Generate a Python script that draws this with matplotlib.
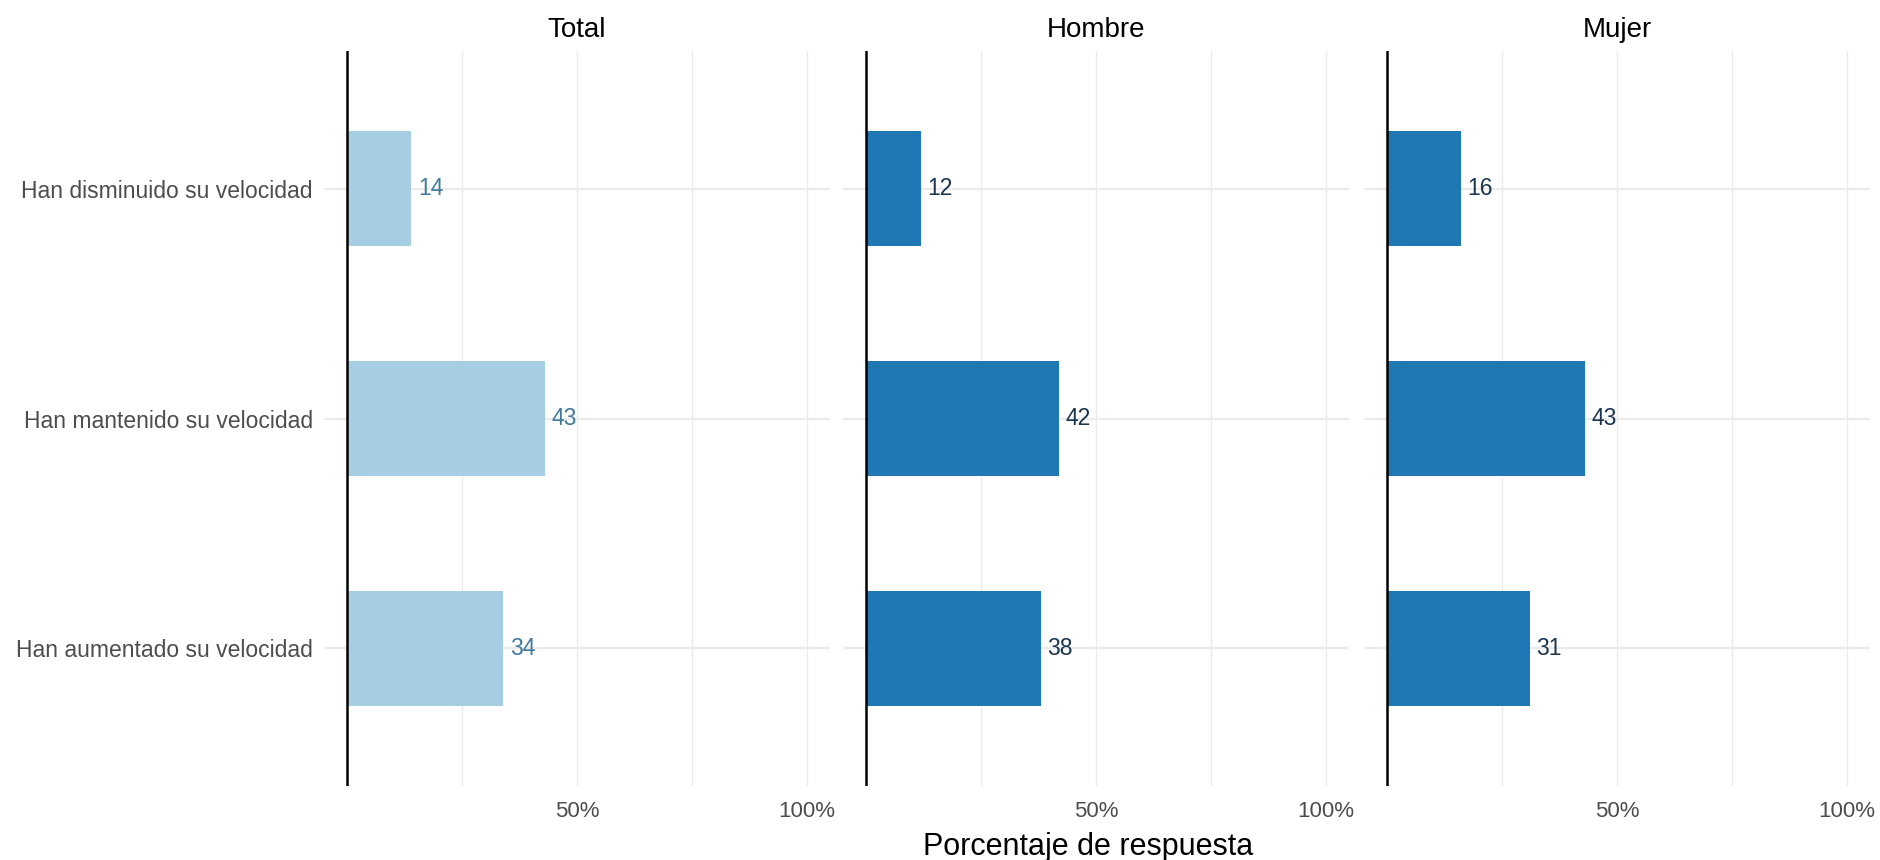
import matplotlib.pyplot as plt

plt.rcParams['font.family'] = ['Liberation Sans', 'DejaVu Sans']

categories = ['Han disminuido su velocidad', 'Han mantenido su velocidad', 'Han aumentado su velocidad']
panels = ['Total', 'Hombre', 'Mujer']
total = [14, 43, 34]
hombre = [12, 42, 38]
mujer = [16, 43, 31]
values = [total, hombre, mujer]
bar_colors = ['#a6cee3', '#1f78b4', '#1f78b4']
text_colors = ['#41799b', '#1b3550', '#1b3550']

W, H = 1881, 860
fig = plt.figure(figsize=(W / 100, H / 100), dpi=100)

lefts = [324, 843, 1364]
pw = 506
top, bottom = 51, 786

ypos = [3, 2, 1]
for i, name in enumerate(panels):
    ax = fig.add_axes([lefts[i] / W, 1 - bottom / H, pw / W, (bottom - top) / H])
    ax.set_xlim(-5, 105)
    ax.set_ylim(0.4, 3.6)
    for g in [25, 50, 75, 100]:
        ax.axvline(g, color='#ebebeb', lw=1.0, zorder=0)
    for y in ypos:
        ax.axhline(y, color='#ebebeb', lw=1.6, zorder=0)
    ax.barh(ypos, values[i], height=0.5, color=bar_colors[i], zorder=2)
    ax.axvline(0, color='black', lw=1.8, zorder=3)
    for y, v in zip(ypos, values[i]):
        ax.text(v + 1.4, y, str(v), va='center', ha='left', fontsize=16.5,
                color=text_colors[i], zorder=4)
    for s in ax.spines.values():
        s.set_visible(False)
    ax.set_xticks([50, 100])
    ax.set_xticklabels(['50%', '100%'], fontsize=16, color='#4d4d4d')
    ax.tick_params(length=0, pad=11)
    ax.set_yticks(ypos)
    if i == 0:
        ax.set_yticklabels(categories, fontsize=16.5, color='#4d4d4d')
        ax.tick_params(axis='y', pad=8)
    else:
        ax.set_yticklabels([])
    ax.set_title(name, fontsize=20, color='black', pad=10)

fig.text(1088 / W, 1 - 847 / H, 'Porcentaje de respuesta',
         ha='center', va='center', fontsize=22, color='black')

fig.savefig('out.png', dpi=100)
